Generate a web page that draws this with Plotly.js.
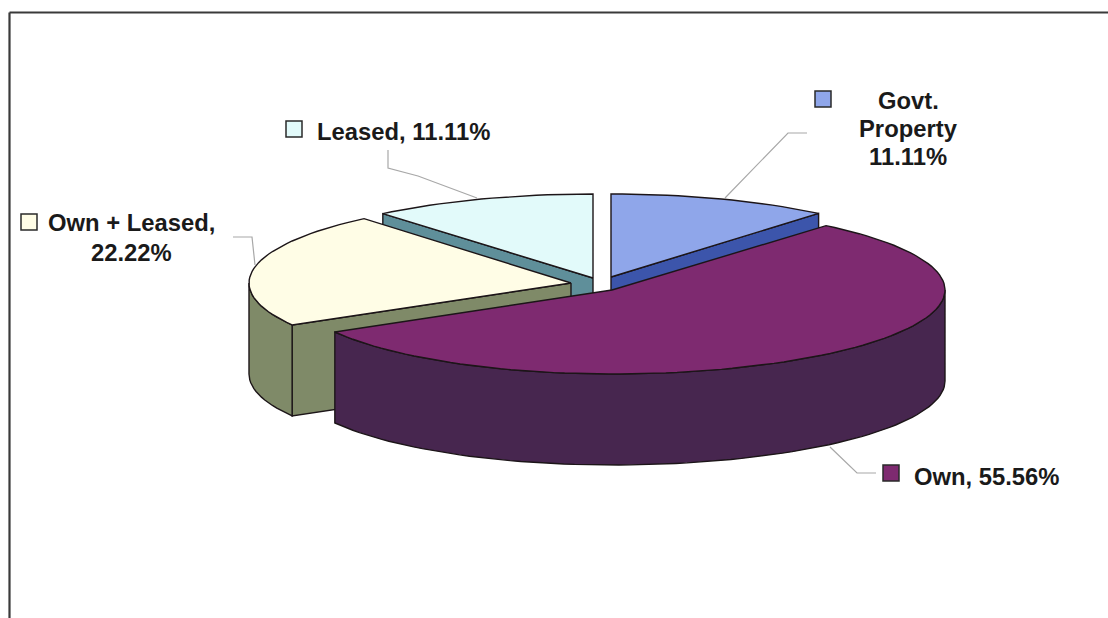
<!DOCTYPE html>
<html>
<head>
<meta charset="utf-8">
<script src="https://cdn.plot.ly/plotly-3.0.1.min.js"></script>
<style>html,body{margin:0;padding:0;background:#fff}#chart{width:1108px;height:618px}</style>
</head>
<body>
<div id="chart"></div>
<script>
// Data, clockwise from 12 o'clock
const categories = ['Govt. Property', 'Own', 'Own + Leased', 'Leased'];
const values = [11.11, 55.56, 22.22, 11.11];

// Styling of each slice
const topColors = ['#8fa6ea', '#7e2a70', '#fffde6', '#e2fafa'];
const wallColors = ['#3c55ab', '#47264f', '#7f8a68', '#5f8f9a'];
const legendColors = ['#8fa6ea', '#7e2a70', '#fffde6', '#e2fafa'];

// Pie projection (pixel-scaled hidden axes); each slice is pulled out on its own
const centerX = [611, 612, 571, 593];
const centerY = [277, 290, 283, 278];
const radiusRight = [323, 333, 322, 327];
const radiusLeft = [323, 320, 322, 327];
const radiusY = [83, 84, 84, 84];
const depth = 91;
const drawOrder = [3, 0, 2, 1];

// Label text and placement, one entry per text line
const labelLines = [
  ['Govt.', 'Property', '11.11%'],
  ['Own, 55.56%'],
  ['Own + Leased,', '22.22%'],
  ['Leased, 11.11%']
];
const labelX = [908, 987, 131.5, 403];
const labelLineY = [[100, 128, 156], [476], [222, 252], [131]];
const keyX = [823, 891, 29, 294];
const keyY = [99, 473, 222, 129];
const leaderX = [[725, 788, 807], [830, 857, 876], [233, 252, 255], [388, 388, 418, 477]];
const leaderY = [[198, 133, 133], [447, 473, 473], [237, 237, 265], [150, 168, 176, 198]];

const total = values.reduce((a, b) => a + b, 0);
const starts = [];
values.reduce((acc, v, i) => { starts[i] = acc; return acc + v / total * 360; }, 0);

function point(i, deg, dz) {
  const r = deg * Math.PI / 180, s = Math.sin(r);
  const rx = s >= 0 ? radiusRight[i] : radiusLeft[i];
  return [centerX[i] + rx * s, centerY[i] - radiusY[i] * Math.cos(r) + (dz || 0)];
}
function arc(i, a, b, dz) {
  const pts = [], n = Math.max(2, Math.ceil((b - a) / 2));
  for (let k = 0; k <= n; k++) pts.push(point(i, a + (b - a) * k / n, dz));
  return pts;
}
function poly(pts, fill, lineW) {
  return {
    type: 'scatter', mode: 'lines', x: pts.map(p => p[0]), y: pts.map(p => p[1]),
    fill: 'toself', fillcolor: fill, line: {color: '#1c1518', width: lineW, shape: 'linear'},
    hoverinfo: 'skip', showlegend: false
  };
}

const traces = [];
// Leader lines sit beneath the pie
categories.forEach((c, i) => {
  traces.push({type: 'scatter', mode: 'lines', x: leaderX[i], y: leaderY[i],
    line: {color: '#a8a8a8', width: 1.2}, hoverinfo: 'skip', showlegend: false});
});
drawOrder.forEach(i => {
  const a = starts[i], b = a + values[i] / total * 360;
  const apex = [centerX[i], centerY[i]], apexLow = [centerX[i], centerY[i] + depth];
  // Only the faces turned toward the viewer are drawn
  if (Math.sin(a * Math.PI / 180) < -1e-9) {
    traces.push(poly([apex, point(i, a), point(i, a, depth), apexLow, apex], wallColors[i], 1.4));
  }
  if (Math.sin(b * Math.PI / 180) > 1e-9) {
    traces.push(poly([apex, point(i, b), point(i, b, depth), apexLow, apex], wallColors[i], 1.4));
  }
  const p = Math.max(a, 90), q = Math.min(b, 270);
  if (q > p) {
    traces.push(poly(arc(i, p, q).concat(arc(i, p, q, depth).reverse()).concat([point(i, p)]), wallColors[i], 1.4));
  }
  traces.push(poly([apex].concat(arc(i, a, b)).concat([apex]), topColors[i], 1.4));
});
// Legend keys next to the labels
traces.push({
  type: 'scatter', mode: 'markers', x: keyX, y: keyY,
  marker: {symbol: 'square', size: 16, color: legendColors, line: {color: '#2a2a2a', width: 1.5}},
  hoverinfo: 'skip', showlegend: false
});

const annotations = [];
labelLines.forEach((lines, i) => lines.forEach((t, k) => annotations.push({
  x: labelX[i], y: labelLineY[i][k], xref: 'x', yref: 'y', text: t, showarrow: false,
  xanchor: 'center', yanchor: 'middle', align: 'center',
  font: {family: '"Liberation Sans", Arial, sans-serif', size: 23.8, color: '#1a1a1a', weight: 700}
})));

const frame = {color: '#3a3a3a', width: 2.2};
const layout = {
  width: 1108, height: 618, margin: {l: 0, r: 0, t: 0, b: 0},
  paper_bgcolor: '#ffffff', plot_bgcolor: '#ffffff', showlegend: false,
  xaxis: {range: [0, 1108], visible: false, fixedrange: true},
  yaxis: {range: [618, 0], visible: false, fixedrange: true},
  annotations: annotations,
  shapes: [
    {type: 'line', xref: 'x', yref: 'y', x0: 9.5, x1: 1108, y0: 12.5, y1: 12.5, line: frame, layer: 'below'},
    {type: 'line', xref: 'x', yref: 'y', x0: 9.5, x1: 9.5, y0: 12.5, y1: 618, line: frame, layer: 'below'}
  ]
};
Plotly.newPlot('chart', traces, layout, {displayModeBar: false, staticPlot: true});
</script>
</body>
</html>
